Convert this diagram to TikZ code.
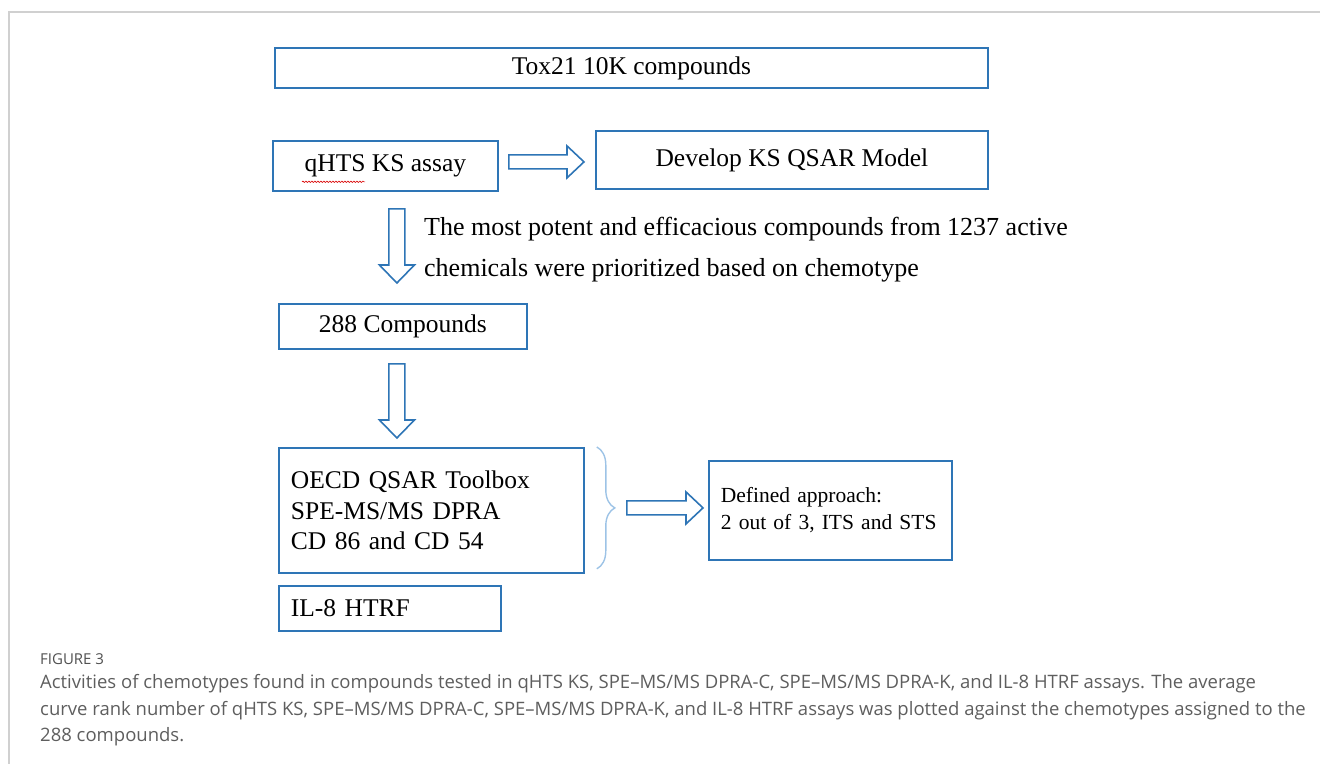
\documentclass[tikz,border=0pt]{standalone}
\usepackage{fontspec}
\setmainfont{Liberation Serif}
\newfontfamily\capfont{Open Sans}
\usetikzlibrary{calc,decorations.pathreplacing,decorations.pathmorphing}
\definecolor{boxblue}{HTML}{2E75B6}
\definecolor{bracecol}{HTML}{9DC3E6}
\definecolor{framegray}{HTML}{D0D0D0}
\definecolor{capgray}{HTML}{5E5E5E}
\begin{document}
\begin{tikzpicture}[x=1pt,y=-1pt,
  box/.style={draw=boxblue,line width=1.8pt,inner sep=0pt,anchor=north west,
    font=\fontsize{25.5}{30}\selectfont},
  leftbox/.style={box,align=left,inner xsep=12pt},
  hollow/.style={draw=boxblue,line width=1.6pt,fill=white,line join=miter},
  harrow/.style={hollow,to path={let \p1=(\tikztostart), \p2=(\tikztotarget) in
    (\x1,\y1+7pt) -- (\x2-17pt,\y1+7pt) -- (\x2-17pt,\y1+16pt) -- (\x2,\y1)
    -- (\x2-17pt,\y1-16pt) -- (\x2-17pt,\y1-7pt) -- (\x1,\y1-7pt) -- cycle}},
  varrow/.style={hollow,to path={let \p1=(\tikztostart), \p2=(\tikztotarget) in
    (\x1-8pt,\y1) -- (\x1-8pt,\y2+18pt) -- (\x1-17.5pt,\y2+18pt) -- (\x1,\y2)
    -- (\x1+17.5pt,\y2+18pt) -- (\x1+8pt,\y2+18pt) -- (\x1+8pt,\y1) -- cycle}},
  captext/.style={anchor=base west,inner sep=0pt,text=capgray,
    font=\capfont\fontsize{18.5}{20}\selectfont}
]
\useasboundingbox (0,0) rectangle (1320,764);
% frame
\draw[framegray,line width=1.2pt] (1320,12) -- (9,12) -- (9,764);

% boxes
\node[box,minimum width=713,minimum height=40] (tox) at (274,47) {Tox21 10K compounds};
\node[box,minimum width=225,minimum height=50] (qhts) at (272,140) {qHTS KS assay};
\node[box,minimum width=392,minimum height=58] (dev) at (595,130) {Develop KS QSAR Model};
\node[box,minimum width=248,minimum height=45] (c288) at (278,303) {288 Compounds};
\node[leftbox,text width=281pt,minimum height=125,
  font=\fontsize{25.5}{30.5}\selectfont] (oecd) at (278,447)
  {OECD QSAR Toolbox\\SPE-MS/MS DPRA\\CD 86 and CD 54};
\node[leftbox,text width=219pt,minimum height=99,
  font=\fontsize{21.5}{27}\selectfont] (def) at (708,460)
  {Defined approach:\\2 out of 3, ITS and STS};
\node[leftbox,text width=198pt,minimum height=45] (il8) at (278,585) {IL-8 HTRF};

% note text
\node[anchor=west,inner sep=0pt,align=left,font=\fontsize{26}{41}\selectfont] (note)
  at (424,250) {The most potent and efficacious compounds from 1237 active\\
  chemicals were prioritized based on chemotype};

% spell-check squiggle
\draw[red!85!black,line width=0.6pt,decorate,
  decoration={snake,amplitude=0.7pt,segment length=3pt}]
  ($(qhts.south west)+(30,-10)$) -- ($(qhts.south west)+(93,-10)$);

% arrow coordinates
\coordinate (a1s) at ($(qhts.east)+(10,-4)$);
\coordinate (a1e) at ($(dev.west)+(-11,2)$);
\coordinate (a2s) at ($(qhts.south)+(11.5,17)$);
\coordinate (a2e) at ($(c288.north)+(-6,-20)$);
\coordinate (a3s) at ($(c288.south)+(-6,14)$);
\coordinate (a3e) at ($(oecd.north)+(-34.5,-9)$);
\coordinate (bt) at ($(oecd.north east)+(12,0)$);
\coordinate (bb) at ($(oecd.south east)+(12,-5)$);
\coordinate (a4s) at ($(oecd.east)+(42,-2.5)$);
\coordinate (a4e) at ($(def.west)+(-5,-2.5)$);

\draw[harrow] (a1s) to (a1e);
\draw[varrow] (a2s) to (a2e);
\draw[varrow] (a3s) to (a3e);
\draw[harrow] (a4s) to (a4e);

% brace
\draw[bracecol,line width=1.4pt,decorate,decoration={brace,amplitude=18pt}] (bt) -- (bb);

% caption
\node[anchor=base west,inner sep=0pt,text=capgray!85!black,
  font=\capfont\fontsize{15}{17}\selectfont] (figlabel) at (40,664) {FIGURE 3};
\node[captext] (cap1) at (40,688) {Activities of chemotypes found in compounds tested in qHTS KS, SPE–MS/MS DPRA-C, SPE–MS/MS DPRA-K, and IL-8 HTRF assays. The average};
\node[captext] (cap2) at (40,715) {curve rank number of qHTS KS, SPE–MS/MS DPRA-C, SPE–MS/MS DPRA-K, and IL-8 HTRF assays was plotted against the chemotypes assigned to the};
\node[captext] (cap3) at (40,741) {288 compounds.};
\end{tikzpicture}
\end{document}
